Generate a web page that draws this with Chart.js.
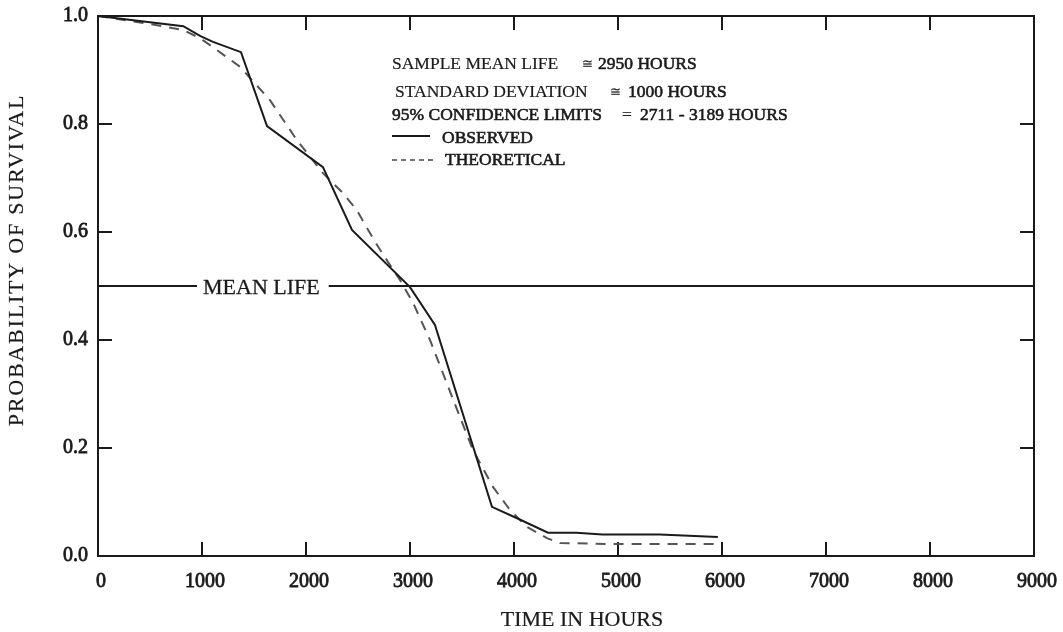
<!DOCTYPE html>
<html>
<head>
<meta charset="utf-8">
<script src="https://cdn.jsdelivr.net/npm/chart.js@4/dist/chart.umd.min.js"></script>
<style>
html,body{margin:0;padding:0;background:#fff;}
#wrap{width:1063px;height:632px;position:relative;}
</style>
</head>
<body>
<div id="wrap"><canvas id="c" width="1063" height="632"></canvas></div>
<script>
// ---- data ----
const observedHours = [0, 820, 981, 1106, 1375, 1625, 2163, 2442, 3000, 3240, 3788, 4050, 4327, 4600, 4850, 5400, 5960];
const observedSurvival = [1.0, 0.981, 0.963, 0.952, 0.933, 0.796, 0.720, 0.604, 0.498, 0.428, 0.091, 0.068, 0.043, 0.043, 0.040, 0.040, 0.035];

const theoreticalHours = [0, 567, 817, 981, 1144, 1365, 1654, 1913, 2163, 2356, 2490, 2615, 2712, 2904, 3029, 3192, 3481, 3606, 3798, 3962, 4125, 4317, 4442, 5000, 5960];
const theoreticalSurvival = [1.0, 0.983, 0.974, 0.959, 0.937, 0.906, 0.844, 0.770, 0.709, 0.672, 0.640, 0.598, 0.567, 0.511, 0.469, 0.400, 0.257, 0.196, 0.128, 0.085, 0.054, 0.033, 0.024, 0.022, 0.022];

const meanLifeHours = [0, 9000];
const meanLifeSurvival = [0.5, 0.5];

const xTicks = [0, 1000, 2000, 3000, 4000, 5000, 6000, 7000, 8000, 9000];
const yTicks = [0.0, 0.2, 0.4, 0.6, 0.8, 1.0];

const seriesNames = ['OBSERVED', 'THEORETICAL'];
const statLabels = ['SAMPLE MEAN LIFE', 'STANDARD DEVIATION', '95% CONFIDENCE LIMITS'];
const statSymbols = ['\u2245', '\u2245', '='];
const statValues = ['2950 HOURS', '1000 HOURS', '2711 - 3189 HOURS'];
const meanLifeLabel = 'MEAN LIFE';
const xTitle = 'TIME IN HOURS';
const yTitle = 'PROBABILITY OF SURVIVAL';

// ---- build ----
const toPts = (xs, ys) => xs.map((x, i) => ({x: x, y: ys[i]}));
const SERIF = '"Liberation Serif", "DejaVu Serif", serif';
const INK = '#1a1a1a';

const zeroPad = s => { s.paddingLeft = 0; s.paddingRight = 0; s.paddingTop = 0; s.paddingBottom = 0; };

function heavyText(ctx, txt, x, y, w) {
  if (w > 0) { ctx.lineWidth = w; ctx.strokeStyle = INK; ctx.strokeText(txt, x, y); }
  ctx.fillText(txt, x, y);
}

const decorPlugin = {
  id: 'decor',
  beforeDatasetsDraw(chart) {
    const ctx = chart.ctx, a = chart.chartArea;
    const xs = chart.scales.x, ys = chart.scales.y;
    ctx.save();
    ctx.strokeStyle = INK;
    ctx.lineWidth = 2;
    ctx.strokeRect(a.left, a.top, a.right - a.left, a.bottom - a.top);
    const tl = 14;
    ctx.beginPath();
    xTicks.slice(1, -1).forEach(v => {
      const px = Math.round(xs.getPixelForValue(v));
      ctx.moveTo(px, a.bottom); ctx.lineTo(px, a.bottom - tl);
      ctx.moveTo(px, a.top); ctx.lineTo(px, a.top + tl);
    });
    yTicks.slice(1, -1).forEach(v => {
      const py = Math.round(ys.getPixelForValue(v));
      ctx.moveTo(a.left, py); ctx.lineTo(a.left + tl, py);
      ctx.moveTo(a.right, py); ctx.lineTo(a.right - tl, py);
    });
    ctx.stroke();
    ctx.restore();
  },
  afterDatasetsDraw(chart) {
    const ctx = chart.ctx;
    const ys = chart.scales.y;
    ctx.save();
    ctx.fillStyle = INK;
    ctx.textBaseline = 'middle';
    // mean life label with gap in line
    const my = ys.getPixelForValue(meanLifeSurvival[0]);
    ctx.font = '22px ' + SERIF;
    const mw = ctx.measureText(meanLifeLabel).width;
    const mx = 203;
    ctx.fillStyle = '#fff';
    ctx.fillRect(mx - 6, my - 6, mw + 15, 12);
    ctx.fillStyle = INK;
    ctx.textAlign = 'left';
    heavyText(ctx, meanLifeLabel, mx, my + 2, 0.3);

    // statistics block
    const rows = [
      {y: 64, x: 392, sx: 582, vx: 598, lw: 0.2},
      {y: 92, x: 395, sx: 610, vx: 628, lw: 0.2},
      {y: 115, x: 392, sx: 622, vx: 640, lw: 0.6}
    ];
    rows.forEach((r, i) => {
      ctx.font = '17.5px ' + SERIF;
      heavyText(ctx, statLabels[i], r.x, r.y, r.lw);
      heavyText(ctx, statValues[i], r.vx, r.y, 0.6);
      ctx.font = (i === 2 ? '17.5px ' : '13px ') + SERIF;
      heavyText(ctx, statSymbols[i], r.sx, r.y + (i === 2 ? 0 : 1), 0.2);
    });
    // legend
    ctx.strokeStyle = INK;
    ctx.lineWidth = 2;
    ctx.beginPath(); ctx.moveTo(392, 136); ctx.lineTo(430, 136); ctx.stroke();
    ctx.strokeStyle = '#444';
    ctx.lineWidth = 1.5;
    ctx.setLineDash([5, 4]);
    ctx.beginPath(); ctx.moveTo(392, 160); ctx.lineTo(435, 160); ctx.stroke();
    ctx.setLineDash([]);
    ctx.font = '17.5px ' + SERIF;
    heavyText(ctx, seriesNames[0], 442, 138, 0.6);
    heavyText(ctx, seriesNames[1], 445, 160, 0.6);

    // axis titles
    ctx.font = '22px ' + SERIF;
    ctx.textAlign = 'center';
    heavyText(ctx, xTitle, 582, 620, 0.2);
    ctx.translate(17, 260);
    ctx.rotate(-Math.PI / 2);
    ctx.letterSpacing = '1.8px';
    heavyText(ctx, yTitle, 0, 0, 0.2);
    ctx.restore();
  }
};

new Chart(document.getElementById('c'), {
  type: 'line',
  data: {
    datasets: [
      {
        label: seriesNames[0],
        data: toPts(observedHours, observedSurvival),
        borderColor: INK, borderWidth: 2, pointRadius: 0, tension: 0, fill: false
      },
      {
        label: seriesNames[1],
        data: toPts(theoreticalHours, theoreticalSurvival),
        borderColor: '#555', borderWidth: 2, borderDash: [10, 8], pointRadius: 0, tension: 0, fill: false
      },
      {
        label: meanLifeLabel,
        data: toPts(meanLifeHours, meanLifeSurvival),
        borderColor: INK, borderWidth: 2, pointRadius: 0, tension: 0, fill: false
      }
    ]
  },
  options: {
    responsive: false,
    animation: false,
    layout: {padding: {left: 0, right: 29, top: 16, bottom: 0}},
    plugins: {legend: {display: false}, tooltip: {enabled: false}},
    scales: {
      x: {
        type: 'linear', min: 0, max: 9000,
        afterBuildTicks: s => { s.ticks = xTicks.map(v => ({value: v})); },
        afterFit: s => { s.height = 76; zeroPad(s); },
        grid: {display: false, drawTicks: false},
        border: {display: false},
        ticks: {
          padding: 14, labelOffset: 3, maxRotation: 0, autoSkip: false,
          color: INK, textStrokeColor: INK, textStrokeWidth: 0.8,
          font: {family: SERIF, size: 20},
          callback: v => String(v)
        }
      },
      y: {
        type: 'linear', min: 0, max: 1,
        afterBuildTicks: s => { s.ticks = yTicks.map(v => ({value: v})); },
        afterFit: s => { s.width = 98; zeroPad(s); },
        grid: {display: false, drawTicks: false},
        border: {display: false},
        ticks: {
          padding: 10, color: INK, textStrokeColor: INK, textStrokeWidth: 0.8,
          font: {family: SERIF, size: 20},
          callback: v => Number(v).toFixed(1)
        }
      }
    }
  },
  plugins: [decorPlugin]
});
</script>
</body>
</html>
